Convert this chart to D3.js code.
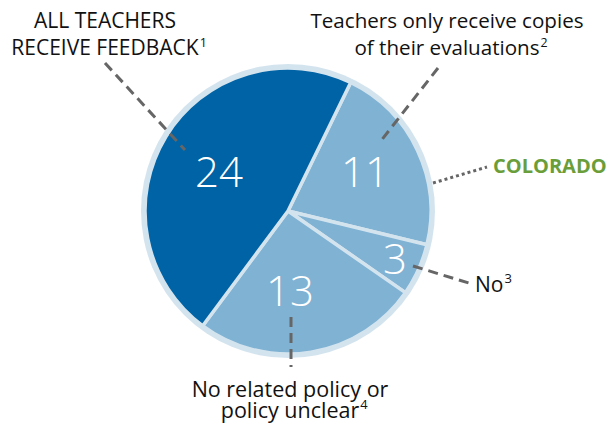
<!DOCTYPE html>
<html><head><meta charset="utf-8">
<script src="https://cdn.jsdelivr.net/npm/d3@7"></script>
<style>body{margin:0;background:#fff}svg{display:block}text{font-family:"Open Sans",sans-serif}</style>
</head><body><div id="c"></div>
<script>
const categories = ["Teachers only receive copies of their evaluations", "No", "No related policy or policy unclear", "All teachers receive feedback"];
const values = [11, 3, 13, 24];
const colorsKey = ["light", "light", "light", "dark"];

const W = 608, H = 428, cx = 288, cy = 211, R = 147;
const svg = d3.select("#c").append("svg").attr("width", W).attr("height", H);
const g = svg.append("g").attr("transform", `translate(${cx},${cy})`);
const color = d3.scaleOrdinal().domain(["dark", "light"]).range(["#0063a5", "#7fb2d3"]);
const deg = Math.PI / 180;
const pie = d3.pie().sort(null).value(d => d).startAngle(26 * deg).endAngle(386 * deg);
const arcs = pie(values);
g.append("circle").attr("r", R).attr("fill", "#d4e4ef");
const arc = d3.arc().innerRadius(0).outerRadius(R - 4);
g.selectAll("path.s").data(arcs).join("path").attr("class", "s")
  .attr("d", arc).attr("fill", (d, i) => color(colorsKey[i]))
  .attr("stroke", "#d4e4ef").attr("stroke-width", 3.5).attr("stroke-linejoin", "round");

// value labels
const labelPos = [[365, 172], [395, 259], [290, 291], [219, 172]];
g.selectAll("text.v").data(arcs).join("text").attr("class", "v")
  .attr("x", (d, i) => labelPos[i][0] - cx).attr("y", (d, i) => labelPos[i][1] - cy + 15)
  .attr("text-anchor", "middle").attr("fill", "#fff").attr("font-size", 42).attr("font-weight", 300)
  .text(d => d.data);

// leader lines
const dashed = [[[105, 63], [185, 150]], [[438, 68], [380, 142]], [[413, 266], [472, 284]], [[291, 317], [291, 367]]];
dashed.forEach(p => svg.append("line").attr("x1", p[0][0]).attr("y1", p[0][1]).attr("x2", p[1][0]).attr("y2", p[1][1])
  .attr("stroke", "#666").attr("stroke-width", 3).attr("stroke-dasharray", "10,6"));
svg.append("line").attr("x1", 433).attr("y1", 183).attr("x2", 487).attr("y2", 167)
  .attr("stroke", "#666").attr("stroke-width", 3).attr("stroke-dasharray", "3,3");

function label(lines, x, y0, dy, size, sup) {
  lines.forEach((l, i) => {
    const t = svg.append("text").attr("text-anchor", "middle").attr("font-size", size).attr("fill", "#111")
      .attr("x", x).attr("y", y0 + i * dy).text(l);
    if (sup && i === lines.length - 1) {
      const w = t.node().getComputedTextLength();
      svg.append("text").attr("x", x + w / 2 + 1).attr("y", y0 + i * dy - size * 0.4)
        .attr("font-size", size * 0.6).attr("fill", "#111").text(sup);
    }
  });
}
label(["ALL TEACHERS", "RECEIVE FEEDBACK"], 105, 28, 27, 21, "1");
label(["Teachers only receive copies", "of their evaluations"], 447, 28, 27, 20.6, "2");
label(["No related policy or", "policy unclear"], 290, 397, 21, 21.5, "4");
const no = svg.append("text").attr("x", 475).attr("y", 292).attr("font-size", 21).attr("fill", "#111").text("No");
svg.append("text").attr("x", 475 + no.node().getComputedTextLength() + 1).attr("y", 283).attr("font-size", 13).attr("fill", "#111").text("3");
svg.append("text").attr("x", 493).attr("y", 173).attr("font-size", 20).attr("font-weight", 700)
  .attr("fill", "#6a9e3a").text("COLORADO");
</script></body></html>
